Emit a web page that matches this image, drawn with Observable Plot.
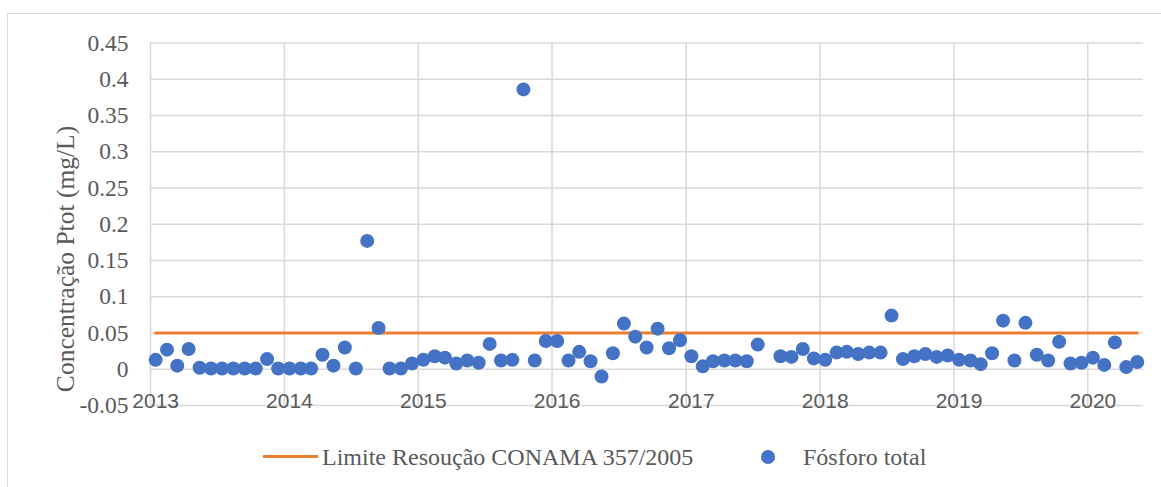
<!DOCTYPE html>
<html>
<head>
<meta charset="utf-8">
<script src="https://cdn.jsdelivr.net/npm/d3@7"></script>
<script src="https://cdn.jsdelivr.net/npm/@observablehq/plot@0.6"></script>
<style>
  html, body { margin: 0; padding: 0; background: #fff; }
  #wrap { position: relative; width: 1161px; height: 487px; overflow: hidden; }
  #frame { position: absolute; left: 7px; top: 13px; width: 1300px; height: 600px; border: 1px solid #d9d9d9; box-sizing: border-box; }
  #chart { position: absolute; left: 0; top: 0; }
  #ytitle { position: absolute; left: 66px; top: 259px; transform: translate(-50%, -50%) rotate(-90deg); white-space: nowrap;
            font-family: "Liberation Serif", serif; font-size: 25.5px; color: #595959; }
  .leg { position: absolute; font-family: "Liberation Serif", serif; font-size: 24px; color: #595959; white-space: nowrap; line-height: 1; }
  #legLine { position: absolute; left: 263px; top: 455px; width: 55px; height: 3px; background: #ED7D31; }
  #legDot { position: absolute; left: 761px; top: 450px; width: 14px; height: 14px; border-radius: 50%; background: #4472C4; }
</style>
</head>
<body>
<div id="wrap">
  <div id="frame"></div>
  <div id="chart"></div>
  <div id="ytitle">Concentração Ptot (mg/L)</div>
  <div id="legLine"></div>
  <div class="leg" id="legText1" style="left:322px; top:445px;">Limite Resoução CONAMA 357/2005</div>
  <div id="legDot"></div>
  <div class="leg" id="legText2" style="left:803px; top:445px;">Fósforo total</div>
</div>
<script>
// Monthly samples starting January 2013 (index 0) through May 2020 (index 88)
const startYear = 2013;
const fosforoTotal = [
  0.013, 0.027, 0.005, 0.028, 0.002, 0.001, 0.001, 0.001, 0.001, 0.001, 0.014, 0.001,   // 2013
  0.001, 0.001, 0.001, 0.020, 0.005, 0.030, 0.001, 0.177, 0.057, 0.001, 0.001, 0.008,   // 2014
  0.013, 0.018, 0.016, 0.008, 0.012, 0.009, 0.035, 0.012, 0.013, 0.386, 0.012, 0.039,   // 2015
  0.039, 0.012, 0.024, 0.011, -0.010, 0.022, 0.063, 0.045, 0.030, 0.056, 0.029, 0.040,  // 2016
  0.018, 0.004, 0.011, 0.012, 0.012, 0.011, 0.034, null, 0.018, 0.017, 0.028, 0.015,    // 2017
  0.013, 0.023, 0.024, 0.021, 0.023, 0.023, 0.074, 0.014, 0.018, 0.021, 0.017, 0.019,   // 2018
  0.013, 0.012, 0.007, 0.022, 0.067, 0.012, 0.064, 0.020, 0.012, 0.038, 0.008, 0.009,   // 2019
  0.016, 0.006, 0.037, 0.003, 0.010                                                       // 2020
];
const limiteCONAMA = 0.05;
const yTicks = [-0.05, 0, 0.05, 0.1, 0.15, 0.2, 0.25, 0.3, 0.35, 0.4, 0.45];
const xYears = [2013, 2014, 2015, 2016, 2017, 2018, 2019, 2020];

const dates = fosforoTotal.map((_, i) => new Date(Date.UTC(startYear, i, 15)));
const points = fosforoTotal.map((v, i) => ({date: dates[i], v})).filter(d => d.v !== null);
const limite = dates.map(d => ({date: d, v: limiteCONAMA}));
const yearStarts = xYears.map(y => new Date(Date.UTC(y, 0, 1)));
const yearLabels = xYears.map(y => new Date(Date.UTC(y, 0, 15)));

const chart = Plot.plot({
  width: 1161,
  height: 430,
  marginLeft: 150,
  marginRight: 18,
  marginTop: 42.5,
  marginBottom: 25,
  style: {fontFamily: "Liberation Serif", background: "transparent"},
  x: {type: "utc", domain: [new Date(Date.UTC(2013, 0, 1)), new Date(Date.UTC(2020, 5, 1))]},
  y: {domain: [-0.05, 0.45]},
  marks: [
    Plot.gridY(yTicks, {stroke: "#d9d9d9", strokeOpacity: 1, strokeWidth: 1.5}),
    Plot.gridX(yearStarts, {stroke: "#d9d9d9", strokeOpacity: 1, strokeWidth: 1.5}),
    Plot.axisY(yTicks, {tickSize: 0, tickPadding: 22, label: null,
      tickFormat: d => String(+d.toFixed(2)),
      fontSize: 23.5, fontFamily: "Liberation Serif", fill: "#595959"}),
    Plot.axisX(yearLabels, {tickSize: 0, tickPadding: 0, dy: -12, label: null,
      tickFormat: d => String(d.getUTCFullYear()),
      fontSize: 21, fontFamily: "Liberation Sans", fill: "#595959"}),
    Plot.lineY(limite, {x: "date", y: "v", stroke: "#ED7D31", strokeWidth: 3}),
    Plot.dot(points, {x: "date", y: "v", r: 7, fill: "#4472C4"})
  ]
});
document.getElementById("chart").appendChild(chart);
</script>
</body>
</html>
